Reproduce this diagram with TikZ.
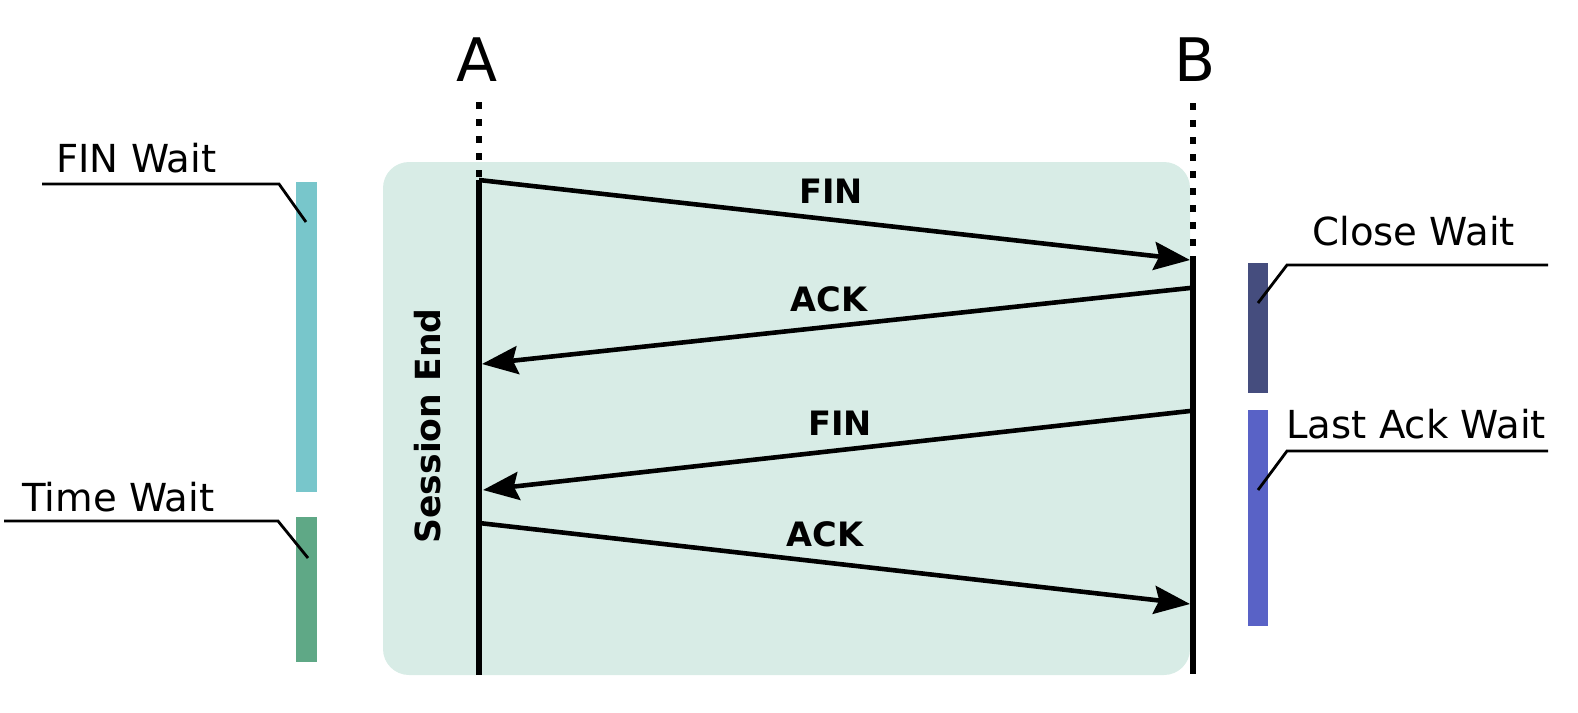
\documentclass[tikz,border=0pt]{standalone}
\usepackage{fontspec}
\setmainfont{DejaVu Sans}
\usetikzlibrary{arrows.meta}
\definecolor{sessionbg}{RGB}{216,236,230}
\definecolor{finwaitcol}{RGB}{120,198,203}
\definecolor{timewaitcol}{RGB}{95,168,134}
\definecolor{closewaitcol}{RGB}{69,77,126}
\definecolor{lastackcol}{RGB}{89,98,198}
\tikzset{
  lifeline/.style={line width=3pt},
  lifedots/.style={line width=3.3pt,dash pattern=on 3.3pt off 5.2pt},
  msg/.style={line width=2.3pt,-{Stealth[length=18pt,width=14pt,inset=2.5pt]}},
  msglabel/.style={font=\bfseries\fontsize{16.8}{18}\selectfont,anchor=base,inner sep=0pt},
  statelabel/.style={font=\fontsize{19.3}{21}\selectfont,anchor=base west,inner sep=0pt},
  hostlabel/.style={font=\fontsize{30}{32}\selectfont,anchor=base,inner sep=0pt},
  leader/.style={line width=1.4pt},
}
\begin{document}
\begin{tikzpicture}[x=0.5pt,y=-0.5pt]
\useasboundingbox (0,0) rectangle (1578,712);
\fill[sessionbg,rounded corners=13pt] (383,162) rectangle (1190,675);
% hosts
\node[hostlabel] (hostA) at (477,81) {A};
\node[hostlabel] (hostB) at (1195,81) {B};
\coordinate (Adots) at (479,102);
\coordinate (Atop) at (479,180);
\coordinate (Abot) at (479,675);
\coordinate (Bdots) at (1193,103);
\coordinate (Btop) at (1193,258);
\coordinate (Bbot) at (1193,674);
\draw[lifedots] (Adots) -- (Atop);
\draw[lifedots] (Bdots) -- (Btop);
\draw[lifeline] (Atop) -- (Abot);
\draw[lifeline] (Btop) -- (Bbot);
% messages
\coordinate (Bfin) at (1190,260);
\coordinate (Backout) at (1190,288);
\coordinate (Aackin) at (482,364);
\coordinate (Bfinout) at (1190,411);
\coordinate (Afinin) at (483,490);
\coordinate (Aackout) at (479,523);
\coordinate (Backin) at (1190,604);
\draw[msg] (Atop) -- (Bfin);
\draw[msg] (Backout) -- (Aackin);
\draw[msg] (Bfinout) -- (Afinin);
\draw[msg] (Aackout) -- (Backin);
\node[msglabel] (finA) at (831,203) {FIN};
\node[msglabel] (ackB) at (829,311) {ACK};
\node[msglabel] (finB) at (840,435) {FIN};
\node[msglabel] (ackA) at (825,546) {ACK};
\node[font=\bfseries\fontsize{17.3}{18}\selectfont,rotate=90] (sessend) at (428,426) {Session End};
% state bars
\fill[finwaitcol] (296,182) rectangle (317,492);
\fill[timewaitcol] (296,517) rectangle (317,662);
\fill[closewaitcol] (1248,263) rectangle (1268,393);
\fill[lastackcol] (1248,410) rectangle (1268,626);
% state labels
\node[statelabel] (finwait) at (56,172) {FIN Wait};
\node[statelabel] (timewait) at (22,511) {Time Wait};
\node[statelabel] (closewait) at (1312,245) {Close Wait};
\node[statelabel] (lastack) at (1286,438) {Last Ack Wait};
\coordinate (fwA) at (42,184);
\coordinate (fwB) at (279,184);
\coordinate (fwC) at (306,222);
\coordinate (twA) at (4,521);
\coordinate (twB) at (278,521);
\coordinate (twC) at (308,558);
\coordinate (cwA) at (1548,265);
\coordinate (cwB) at (1287,265);
\coordinate (cwC) at (1258,303);
\coordinate (laA) at (1548,451);
\coordinate (laB) at (1287,451);
\coordinate (laC) at (1258,490);
\draw[leader] (fwA) -- (fwB) -- (fwC);
\draw[leader] (twA) -- (twB) -- (twC);
\draw[leader] (cwA) -- (cwB) -- (cwC);
\draw[leader] (laA) -- (laB) -- (laC);
\end{tikzpicture}
\end{document}
